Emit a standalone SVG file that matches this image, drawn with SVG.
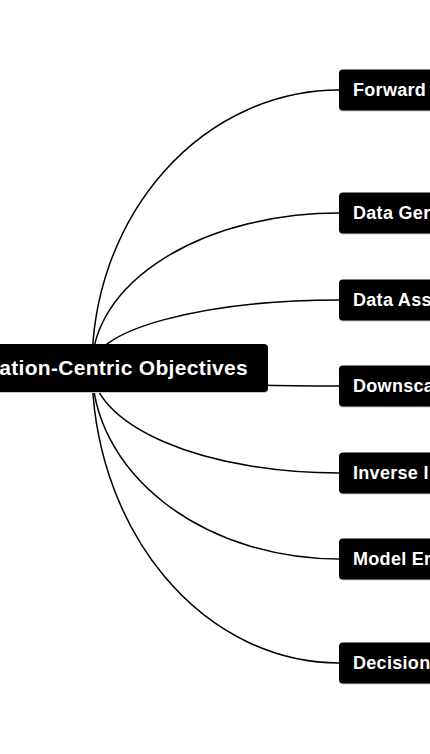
<svg xmlns="http://www.w3.org/2000/svg" width="430" height="754" viewBox="0 0 430 754">
<style>
.box{fill:#000;}
.shadow{fill:#c8c8c8;}
.lbl{fill:#fff;font-family:"Liberation Sans",Arial,sans-serif;font-weight:bold;font-size:18px;letter-spacing:0.3px;}
.root{font-size:21px;letter-spacing:0.3px;}
.link{fill:none;stroke:#000;stroke-width:1.5;}
</style>
<rect width="430" height="754" fill="#fff"/>
<g id="connectors">
<path class="link" d="M92 367 A247 277 0 0 1 339 90"/>
<path class="link" d="M92 367 A247 154 0 0 1 339 213"/>
<path class="link" d="M92 367 A247 67 0 0 1 339 300"/>
<path class="link" d="M92 367 A247 19 0 0 0 339 386"/>
<path class="link" d="M92 367 A247 106 0 0 0 339 473"/>
<path class="link" d="M92 367 A247 192 0 0 0 339 559"/>
<path class="link" d="M92 367 A247 296 0 0 0 339 663"/>
</g>
<g id="root">
<rect class="shadow" x="-300" y="345" width="568" height="48" rx="4"/>
<rect class="box" x="-300" y="344" width="568" height="48" rx="4"/>
<text class="lbl root" x="248" y="375" text-anchor="end">ation-Centric Objectives</text>
</g>
<g id="n-forward">
<rect class="shadow" x="339" y="70.5" width="200" height="41" rx="4"/>
<rect class="box" x="339" y="69.5" width="200" height="41" rx="4"/>
<text class="lbl" x="353" y="96">Forward</text>
</g>
<g id="n-datagen">
<rect class="shadow" x="339" y="193.5" width="200" height="41" rx="4"/>
<rect class="box" x="339" y="192.5" width="200" height="41" rx="4"/>
<text class="lbl" x="353" y="219">Data Ger</text>
</g>
<g id="n-dataass">
<rect class="shadow" x="339" y="280.5" width="200" height="41" rx="4"/>
<rect class="box" x="339" y="279.5" width="200" height="41" rx="4"/>
<text class="lbl" x="353" y="306">Data Ass</text>
</g>
<g id="n-downscale">
<rect class="shadow" x="339" y="366.5" width="200" height="41" rx="4"/>
<rect class="box" x="339" y="365.5" width="200" height="41" rx="4"/>
<text class="lbl" x="353" y="392">Downsca</text>
</g>
<g id="n-inverse">
<rect class="shadow" x="339" y="453.5" width="200" height="41" rx="4"/>
<rect class="box" x="339" y="452.5" width="200" height="41" rx="4"/>
<text class="lbl" x="353" y="479">Inverse I</text>
</g>
<g id="n-model">
<rect class="shadow" x="339" y="539.5" width="200" height="41" rx="4"/>
<rect class="box" x="339" y="538.5" width="200" height="41" rx="4"/>
<text class="lbl" x="353" y="565">Model Er</text>
</g>
<g id="n-decision">
<rect class="shadow" x="339" y="643.5" width="200" height="41" rx="4"/>
<rect class="box" x="339" y="642.5" width="200" height="41" rx="4"/>
<text class="lbl" x="353" y="669">Decision</text>
</g>
</svg>
